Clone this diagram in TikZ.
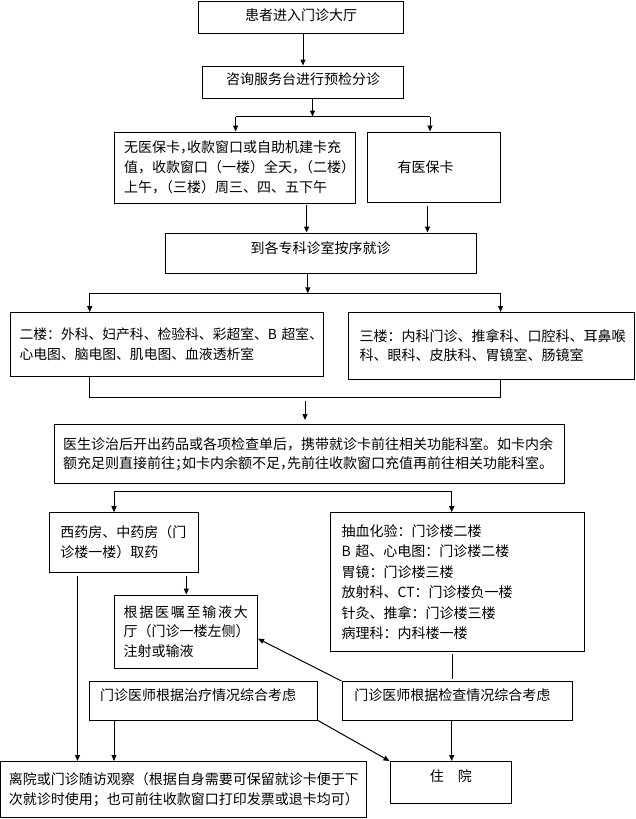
\documentclass[tikz,border=0pt]{standalone}
\usepackage{fontspec}
\setmainfont{Noto Sans CJK SC}
\newfontfamily\halffont[RawFeature=+halt]{Noto Sans CJK SC}
\newcommand{\hcomma}{{\halffont ，}}
\newcommand{\hsemi}{{\halffont ；}}
\usetikzlibrary{arrows.meta}

\begin{document}
\begin{tikzpicture}[x=1pt,y=-1pt,
        box/.style={draw,line width=1pt,inner ysep=0pt,font=\fontsize{14}{20}\selectfont},
        lbox/.style={box,align=left},
        arr/.style={line width=1pt,-{Triangle[length=6pt,width=5pt]}},
        line/.style={line width=1pt}]
        \useasboundingbox (0,0) rectangle (636,819);
        \node[box,minimum width=205pt,minimum height=32pt,text depth=5pt] (hall) at (301,17) {患者进入门诊大厅};
        \node[box,minimum width=201pt,minimum height=32pt,text depth=7pt] (desk) at (303,82) {咨询服务台进行预检分诊};
        \node[lbox,minimum height=71pt,inner xsep=10pt,text width=221pt] (nocard) at (234.5,167.5)
            {无医保卡\hcomma 收款窗口或自助机建卡充\\值，收款窗口（一楼）全天\hcomma （二楼）\\上午\hcomma （三楼）周三、四、五下午};
        \node[lbox,minimum height=70pt,inner xsep=30.5pt,text width=72pt] (card) at (433.5,167) {有医保卡};
        \node[box,minimum width=311pt,minimum height=40pt,text depth=10pt] (clinic) at (320.5,253) {到各专科诊室按序就诊};
        \node[lbox,minimum height=64pt,inner xsep=9.6pt,text width=294.3pt,font=\fontsize{13.8}{20}\selectfont] (floor2) at (166.75,344.6)
            {二楼：外科、妇产科、检验科、彩超室、B~超室、\\心电图、脑电图、肌电图、血液透析室};
        \node[lbox,minimum height=66.5pt,inner xsep=11pt,text width=263.5pt,font=\fontsize{14}{18.5}\selectfont] (floor3) at (491.25,345.75)
            {三楼：内科门诊、推拿科、口腔科、耳鼻喉\\科、眼科、皮肤科、胃镜室、肠镜室};
        \node[lbox,minimum height=59.7pt,inner xsep=9pt,text width=492.5pt,font=\fontsize{14}{19}\selectfont] (doctor) at (309.25,453.85)
            {医生诊治后开出药品或各项检查单后，携带就诊卡前往相关功能科室。如卡内余\\额充足则直接前往\hsemi 如卡内余额不足\hcomma 先前往收款窗口充值再前往相关功能科室。};
        \node[lbox,minimum height=59.6pt,inner xsep=11.4pt,text width=126.7pt] (pharmacy) at (123.75,542.5)
            {西药房、中药房（门\\诊楼一楼）取药};
        \node[lbox,minimum height=138.8pt,inner xsep=11.6pt,text width=230.8pt,font=\fontsize{14}{20.5}\selectfont] (exams) at (457,582.1)
            {抽血化验：门诊楼二楼\\B~超、心电图：门诊楼二楼\\胃镜：门诊楼三楼\\放射科、CT：门诊楼负一楼\\针灸、推拿：门诊楼三楼\\病理科：内科楼一楼};
        \node[lbox,minimum height=73.3pt,inner xsep=9.5pt,text width=124.5pt,font=\fontsize{14}{19.2}\selectfont] (infusion) at (185.75,631.65)
            {\makebox[124.5pt][s]{根\hfil 据\hfil 医\hfil 嘱\hfil 至\hfil 输\hfil 液\hfil 大}\\厅（门诊一楼左侧）\\注射或输液};
        \node[lbox,minimum height=38.5pt,inner xsep=10.5pt,text width=207pt,text depth=12pt] (treatdoc) at (203.5,700.75)
            {门诊医师根据治疗情况综合考虑};
        \node[lbox,minimum height=38.5pt,inner xsep=12.3pt,text width=205.4pt,text depth=12pt] (checkdoc) at (457,700.75)
            {门诊医师根据检查情况综合考虑};
        \node[lbox,minimum height=55.8pt,inner xsep=8.5pt,text width=348.5pt] (leave) at (183.25,789.4)
            {离院或门诊随访观察（根据自身需要可保留就诊卡便于下\\次就诊时使用；也可前往收款窗口打印发票或退卡均可）};
        \node[box,minimum width=121.6pt,minimum height=41.8pt,text depth=14pt] (admit) at (450.8,782.4) {住\quad 院};
        \coordinate (j1) at (312.5,116.5);
        \coordinate (j1l) at (235.6,116.5);
        \coordinate (j1r) at (430,116.5);
        \coordinate (s3l) at (306.6,205);
        \coordinate (s3r) at (427.5,205.5);
        \coordinate (j2) at (307.8,293.3);
        \coordinate (j2l) at (89.7,293.3);
        \coordinate (j2r) at (500.6,293.3);
        \coordinate (k2l) at (89.7,397.3);
        \coordinate (k2r) at (500.6,397.3);
        \coordinate (s6) at (305,400.5);
        \coordinate (j3l) at (114,491.7);
        \coordinate (j3r) at (451.7,491.7);
        \coordinate (s7) at (186.3,575.5);
        \coordinate (s7b) at (77.5,575.5);
        \coordinate (s8) at (452.5,653.5);
        \draw[arr] (hall.south -| desk.north) -- (desk.north);
        \draw[arr] (desk.south -| j1) -- (j1);
        \draw[line] (j1l) -- (j1r);
        \draw[arr] (j1l) -- (j1l |- nocard.north);
        \draw[arr] (j1r) -- (j1r |- card.north);
        \draw[arr] (s3l) -- (s3l |- clinic.north);
        \draw[arr] (s3r) -- (s3r |- clinic.north);
        \draw[arr] (clinic.south -| j2) -- (j2);
        \draw[line] (j2l) -- (j2r);
        \draw[arr] (j2l) -- (j2l |- floor2.north);
        \draw[arr] (j2r) -- (j2r |- floor3.north);
        \draw[line] (floor2.south -| k2l) -- (k2l) -- (k2r) -- (floor3.south -| k2r);
        \draw[arr,shorten >=3.5pt] (s6) -- (s6 |- doctor.north);
        \draw[line] (j3l) -- (j3r);
        \draw[arr] (j3l) -- (j3l |- pharmacy.north);
        \draw[arr] (j3r) -- (j3r |- exams.north);
        \draw[arr] (s7) -- (s7 |- infusion.north);
        \draw[arr] (s7b) -- (s7b |- leave.north);
        \draw[line,shorten >=2.5pt] (s8) -- (s8 |- checkdoc.north);
        \draw[arr] (checkdoc.north west) -- ([yshift=-7pt]infusion.east);
        \draw[arr] (j3l |- treatdoc.south) -- (j3l |- leave.north);
        \draw[arr] (treatdoc.south east) -- (admit.north west);
        \draw[arr] (j3r |- checkdoc.south) -- (j3r |- admit.north);
    \end{tikzpicture}
\end{document}
